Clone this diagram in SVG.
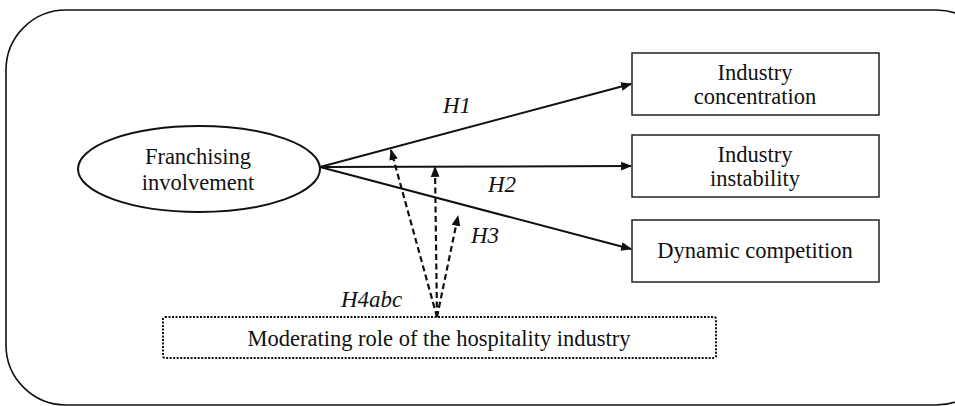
<svg xmlns="http://www.w3.org/2000/svg" width="955" height="406" viewBox="0 0 955 406">
<defs>
<style>
.t{font-family:"Liberation Serif","Times New Roman",serif;font-size:22.5px;fill:#111;text-anchor:middle}
.h{font-family:"Liberation Serif","Times New Roman",serif;font-size:23px;font-style:italic;fill:#111}
.box{fill:#fff;stroke:#222;stroke-width:1.5}
.ln{stroke:#111;stroke-width:2;fill:none}
.dl{stroke:#111;stroke-width:2.2;fill:none;stroke-dasharray:6,3.5}
</style>
<marker id="ah" viewBox="0 0 10 10" refX="9" refY="5" markerWidth="11" markerHeight="11" markerUnits="userSpaceOnUse" orient="auto">
<path d="M0,1 L10,5 L0,9 Z" fill="#111"/>
</marker>
</defs>
<rect width="955" height="406" fill="#fff"/>
<rect id="frame" x="6" y="10" width="990" height="395" rx="60" ry="60" fill="none" stroke="#111" stroke-width="1.6"/>
<g id="franchising">
<ellipse cx="199" cy="169" rx="121" ry="43" fill="#fff" stroke="#111" stroke-width="2"/>
<text class="t" x="198" y="164">Franchising</text>
<text class="t" x="198" y="190">involvement</text>
</g>
<g id="concentration">
<rect class="box" x="632" y="53" width="247" height="62"/>
<text class="t" x="755" y="80">Industry</text>
<text class="t" x="755" y="104">concentration</text>
</g>
<g id="instability">
<rect class="box" x="632" y="135" width="247" height="62"/>
<text class="t" x="755" y="162">Industry</text>
<text class="t" x="755" y="186">instability</text>
</g>
<g id="competition">
<rect class="box" x="632" y="220" width="247" height="62"/>
<text class="t" x="755" y="258">Dynamic competition</text>
</g>
<g id="moderator">
<rect x="163" y="317" width="553" height="41" rx="2" fill="none" stroke="#111" stroke-width="2" stroke-dasharray="2,1.5"/>
<text class="t" x="439" y="346">Moderating role of the hospitality industry</text>
</g>
<g id="connectors">
<line class="ln" x1="320" y1="167" x2="631" y2="84" marker-end="url(#ah)"/>
<line class="ln" x1="320" y1="167" x2="631" y2="166" marker-end="url(#ah)"/>
<line class="ln" x1="320" y1="167" x2="631" y2="249" marker-end="url(#ah)"/>
<line class="dl" x1="437" y1="317" x2="391" y2="150" marker-end="url(#ah)"/>
<line class="dl" x1="437" y1="317" x2="435" y2="167" marker-end="url(#ah)"/>
<line class="dl" x1="437" y1="317" x2="458" y2="216" marker-end="url(#ah)"/>
<text class="h" x="443" y="113">H1</text>
<text class="h" x="488" y="192">H2</text>
<text class="h" x="471" y="243">H3</text>
<text class="h" x="341" y="307">H4abc</text>
</g>
</svg>
